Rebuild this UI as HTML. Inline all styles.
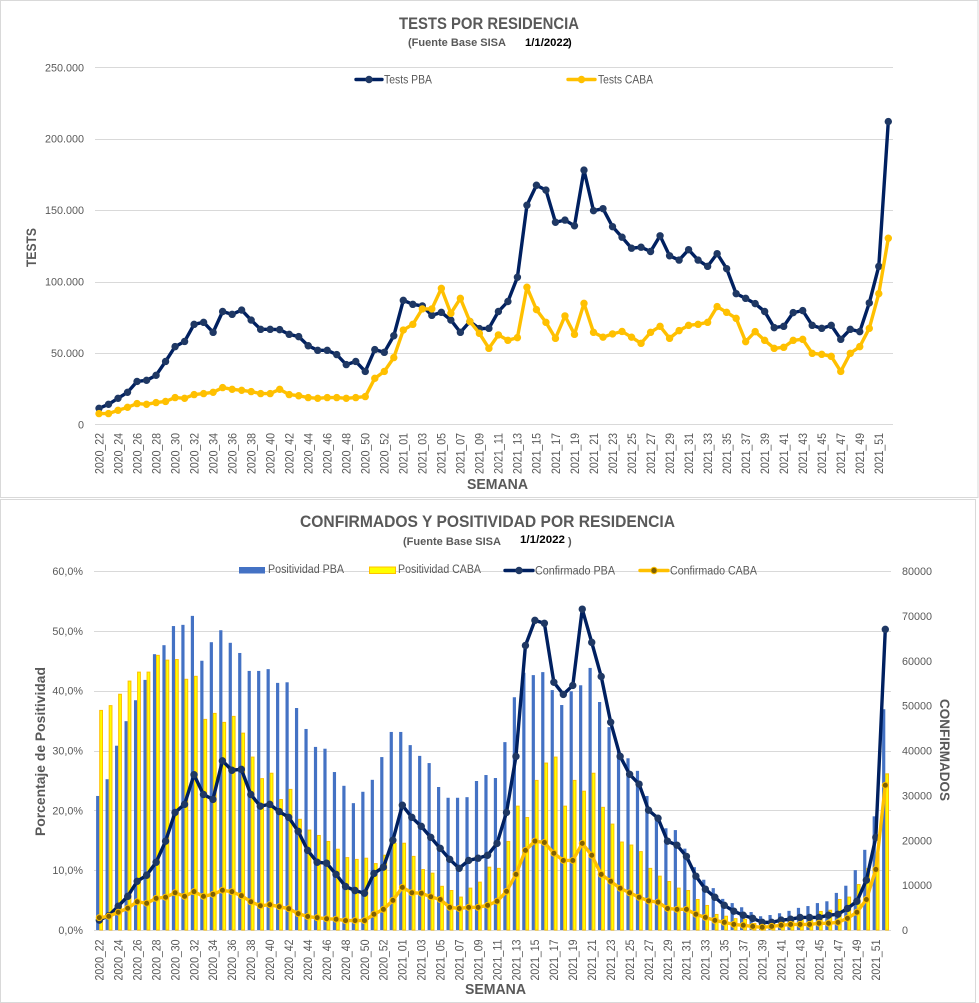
<!DOCTYPE html>
<html lang="es">
<head>
<meta charset="utf-8">
<title>Tests y confirmados por residencia</title>
<style>
html,body{margin:0;padding:0;background:#fff;width:979px;height:1003px;overflow:hidden}
svg{display:block;font-family:"Liberation Sans",sans-serif}
text{fill:#595959}
</style>
</head>
<body>
<svg id="root" xmlns="http://www.w3.org/2000/svg" width="979" height="1003" viewBox="0 0 979 1003">
  <rect x="0" y="0" width="979" height="1003" fill="#fff"/>
  <rect x="0.5" y="0.5" width="977.5" height="497" fill="#fff" stroke="#d9d9d9" stroke-width="1"/>
  <rect x="0.5" y="499.5" width="975" height="503" fill="#fff" stroke="#d9d9d9" stroke-width="1"/>

  <g id="tests-chart"></g>
  <g id="conf-chart"></g>

  <text x="399" y="29" font-size="17" font-weight="bold" textLength="180" lengthAdjust="spacingAndGlyphs">TESTS POR RESIDENCIA</text>
  <text x="408" y="46" font-size="11" font-weight="bold" textLength="98" lengthAdjust="spacingAndGlyphs">(Fuente Base  SISA</text>
  <text x="525" y="46" font-size="11" font-weight="bold" style="fill:#000" textLength="44" lengthAdjust="spacingAndGlyphs">1/1/2022</text>
  <text x="568" y="46" font-size="11" font-weight="bold" style="fill:#000">)</text>
  <text transform="translate(36,267) rotate(-90)" font-size="14" font-weight="bold" textLength="39" lengthAdjust="spacingAndGlyphs">TESTS</text>
  <text x="467" y="489" font-size="14.5" font-weight="bold" textLength="61" lengthAdjust="spacingAndGlyphs">SEMANA</text>

  <text x="300" y="527" font-size="17" font-weight="bold" textLength="375" lengthAdjust="spacingAndGlyphs">CONFIRMADOS Y POSITIVIDAD POR RESIDENCIA</text>
  <text x="403" y="545" font-size="11" font-weight="bold" textLength="98" lengthAdjust="spacingAndGlyphs">(Fuente Base  SISA</text>
  <text x="520" y="543" font-size="11" font-weight="bold" style="fill:#000" textLength="45" lengthAdjust="spacingAndGlyphs">1/1/2022</text>
  <text x="568" y="545" font-size="11" font-weight="bold">)</text>
  <text transform="translate(45,836) rotate(-90)" font-size="14" font-weight="bold" textLength="169" lengthAdjust="spacingAndGlyphs">Porcentaje de Positividad</text>
  <text transform="translate(940,699) rotate(90)" font-size="14" font-weight="bold" textLength="102" lengthAdjust="spacingAndGlyphs">CONFIRMADOS</text>
  <text x="465" y="994" font-size="14.5" font-weight="bold" textLength="61" lengthAdjust="spacingAndGlyphs">SEMANA</text>
</svg>

<script>
const categories = [
 "2020_22","2020_23","2020_24","2020_25","2020_26","2020_27","2020_28","2020_29","2020_30","2020_31","2020_32","2020_33","2020_34","2020_35","2020_36","2020_37","2020_38","2020_39","2020_40","2020_41","2020_42","2020_43","2020_44","2020_45","2020_46","2020_47","2020_48","2020_49","2020_50","2020_51","2020_52","2020_53",
 "2021_01","2021_02","2021_03","2021_04","2021_05","2021_06","2021_07","2021_08","2021_09","2021_10","2021_11","2021_12","2021_13","2021_14","2021_15","2021_16","2021_17","2021_18","2021_19","2021_20","2021_21","2021_22","2021_23","2021_24","2021_25","2021_26","2021_27","2021_28","2021_29","2021_30","2021_31","2021_32","2021_33","2021_34","2021_35","2021_36","2021_37","2021_38","2021_39","2021_40","2021_41","2021_42","2021_43","2021_44","2021_45","2021_46","2021_47","2021_48","2021_49","2021_50","2021_51","2021_52"
];
const testsPBA = [
 11200,14000,18200,22400,30000,30800,34300,44000,54400,58000,70000,71400,64400,79000,77000,80000,73000,66500,66500,66300,63000,61400,55000,51800,51800,48800,41800,44000,37000,52300,50400,62000,
 86800,84000,82900,76300,78400,73000,64400,72000,67000,67200,79000,86000,103000,153400,167400,164000,141500,143000,139000,178000,149600,151000,138400,131000,123300,124000,121000,132000,118000,115000,122300,115000,110600,119500,109000,91500,88200,84500,79000,67700,68600,78200,79600,69300,67200,69300,59500,66500,64900,85000,110600,212000
];
const testsCABA = [
 7500,7500,9800,11900,14500,14000,15200,16000,18700,18200,20800,21500,22400,25700,24500,23800,22900,21500,21500,24500,20800,20000,18700,18200,18700,18700,18200,18700,19400,32200,37000,46700,
 66000,70000,80800,80800,95200,77700,88200,72000,63700,53200,62600,58800,60700,96000,80300,71400,60200,75900,63000,84700,64400,61000,63300,65000,61000,56700,64400,68600,60200,65600,69300,70000,71400,82400,78400,74200,57900,64900,58800,53200,53900,58800,59500,49700,49000,47600,37000,49700,54400,67200,91500,130300
];
const positividadPBA = [
 22.4,25.2,30.8,34.9,38.4,41.8,46.1,47.6,50.8,51,52.5,45,48.1,50.1,48,46.3,43.3,43.3,43.6,41.3,41.4,37.1,33.6,30.6,30.3,26.4,24.1,21.2,23.1,25.1,28.9,33.1,
 33.1,30.9,29.1,27.9,23.9,22.1,22.1,22.2,24.9,25.9,25.4,31.4,38.9,43,42.6,43.1,40.1,37.6,39.9,40.9,43.8,38.1,33.9,30,28.7,26.6,22.4,18.9,17,16.7,13.6,10.5,8.4,7,5.2,4.5,3.8,3,2.3,2.5,2.8,3.2,3.7,4,4.5,4.8,6.2,7.4,10,13.4,19,36.9
];
const positividadCABA = [
 36.7,37.5,39.4,41.6,43.1,43.1,45.9,45.1,45.2,41.9,42.4,35.2,36.2,34.7,35.7,32.9,28.9,25.3,26.2,21.8,23.5,18.5,16.7,15.8,14.8,13.5,12.1,11.8,12,11.1,12.5,14.5,
 14.5,12.3,10.1,9.5,7.3,6.6,5.5,7,8,10.5,10.3,14.8,20.7,18.8,25,27.9,28.9,20.7,25,23.2,26.2,20.5,17.7,14.7,14.2,13.1,10.3,9,8.1,7,6.6,5.1,4.1,2.6,2.3,1.9,1.8,1.1,0.8,1,1.8,1.5,1.9,1.7,3.1,3.3,5.1,5.5,7.6,10.3,12.8,26.1
];
const confirmadoPBA = [
 2200,3200,5300,7500,10850,12200,15100,19800,26200,28000,34600,30200,29100,37700,35600,35800,30200,27600,28000,26400,25100,22000,17750,15100,14900,12400,9700,8800,8200,12600,14000,20000,
 27800,25100,23100,20650,18200,15750,13750,15500,16000,16650,19300,26200,38700,63400,69000,68350,55200,52500,54500,71500,64100,56500,46300,38700,34700,32500,26700,24900,19800,18900,16400,12000,9100,7300,5500,4200,3300,2600,1700,1700,2200,2400,2800,2800,2800,3300,3500,4800,6400,11100,20650,67000
];
const confirmadoCABA = [
 2750,3050,3950,4850,6300,5950,7050,7300,8300,7500,8550,7500,7950,8850,8550,7650,6300,5400,5650,5200,4750,3650,3000,2750,2500,2400,2100,2100,2100,3500,4600,6600,
 9500,8300,8200,7400,6800,5050,4800,5050,5050,5500,6400,8600,12400,17750,19800,19500,17100,15500,15500,19300,16650,12400,10850,9300,8300,7300,6500,6200,4800,4600,4600,3500,2800,2150,1700,1250,1050,800,600,800,1050,1250,1250,1250,1500,1500,1700,2600,3950,6800,13500,32250
];
const testsTickValues = [0,50000,100000,150000,200000,250000];
const testsTickLabels = ["0","50.000","100.000","150.000","200.000","250.000"];
const pctTickValues = [0,10,20,30,40,50,60];
const pctTickLabels = ["0,0%","10,0%","20,0%","30,0%","40,0%","50,0%","60,0%"];
const confTickValues = [0,10000,20000,30000,40000,50000,60000,70000,80000];
const confTickLabels = ["0","10000","20000","30000","40000","50000","60000","70000","80000"];

const NS = "http://www.w3.org/2000/svg";
function mk(parent, tag, attrs, txt) {
  const el = document.createElementNS(NS, tag);
  for (const k in attrs) el.setAttribute(k, attrs[k]);
  if (txt !== undefined) el.textContent = txt;
  parent.appendChild(el);
  return el;
}

// axis functions
const xTests = i => 99 + i * (888.3 - 99) / (categories.length - 1);
const yTests = v => 424.3 - v / 250000 * 357;
const xConf = i => 99.3 + i * (885.3 - 99.3) / (categories.length - 1);
const yPct = v => 930 - v / 60 * 359;
const yConf = v => 930 - v / 80000 * 359;

function drawGrid(parent, values, yFn, x1, x2, prefix) {
  values.forEach(v => {
    const y = Math.round(yFn(v)) + 0.5;
    const el = mk(parent, "line", {x1: x1, x2: x2, y1: y, y2: y, stroke: "#d9d9d9", "stroke-width": 1});
    
    
  });
}
function drawCategoryLabels(parent, xFn, yTop, prefix) {
  categories.forEach((c, i) => {
    if (i % 2) return;
    const x = xFn(i) + 4.3;
    const el = mk(parent, "text", {transform: `translate(${x},${yTop}) rotate(-90)`, "text-anchor": "end", "font-size": 11.5, textLength: 41, lengthAdjust: "spacingAndGlyphs"}, c);
    
    
  });
}
function drawValueLabels(parent, values, labels, yFn, x, anchor, prefix) {
  values.forEach((v, i) => {
    const el = mk(parent, "text", {x: x, y: yFn(v) + 4, "text-anchor": anchor, "font-size": 10.8}, labels[i]);
    
    
  });
}
function drawSeries(parent, values, xFn, yFn, color, fill, markerStroke, r, width, name) {
  const g = mk(parent, "g", {});
  
  
  const line = mk(g, "polyline", {points: values.map((v, i) => xFn(i).toFixed(2) + "," + yFn(v).toFixed(2)).join(" "), fill: "none", stroke: color, "stroke-width": width, "stroke-linejoin": "round", "stroke-linecap": "round"});
  
  
  values.forEach((v, i) => {
    const pt = mk(g, "circle", {cx: xFn(i).toFixed(2), cy: yFn(v).toFixed(2), r: r, fill: fill, stroke: markerStroke, "stroke-width": 1});
    
    
  });
}
function drawBars(parent, values, xFn, yFn, offset, w, fill, stroke, name) {
  const g = mk(parent, "g", {});
  
  
  values.forEach((v, i) => {
    const top = yFn(v);
    const attrs = {x: (xFn(i) + offset).toFixed(2), y: top.toFixed(2), width: w, height: (yFn(0) - top).toFixed(2), fill: fill};
    if (stroke) { attrs.stroke = stroke; attrs["stroke-width"] = 1; }
    const b = mk(g, "rect", attrs);
    
    
  });
}
function legendLine(parent, x1, x2, y, color, fill, stroke, label, tx, tw, name) {
  const g = mk(parent, "g", {});
  
  
  mk(g, "line", {x1: x1, x2: x2, y1: y, y2: y, stroke: color, "stroke-width": 3.4, "stroke-linecap": "round"});
  mk(g, "circle", {cx: (x1 + x2) / 2, cy: y, r: 3.2, fill: fill, stroke: stroke, "stroke-width": 1});
  mk(g, "text", {x: tx, y: y + 4, "font-size": 11.5, textLength: tw, lengthAdjust: "spacingAndGlyphs"}, label);
}
function legendBar(parent, x, y, w, h, fill, stroke, label, tx, tw, name) {
  const g = mk(parent, "g", {});
  
  
  const a = {x: x, y: y, width: w, height: h, fill: fill};
  if (stroke) { a.stroke = stroke; a["stroke-width"] = 1; }
  mk(g, "rect", a);
  mk(g, "text", {x: tx, y: 573, "font-size": 11.5, textLength: tw, lengthAdjust: "spacingAndGlyphs"}, label);
}

const NAVY = "#002060", NAVY_M = "#1f3864", GOLD = "#ffc000", BROWN = "#7f6000";

// chart 1
const c1 = document.getElementById("tests-chart");
drawGrid(c1, testsTickValues, yTests, 95, 893, "tests");
drawValueLabels(c1, testsTickValues, testsTickLabels, yTests, 84, "end", "tests-y");
drawCategoryLabels(c1, xTests, 433, "tests");
drawSeries(c1, testsPBA, xTests, yTests, NAVY, NAVY_M, NAVY_M, 3.2, 3.4, "tests-pba");
drawSeries(c1, testsCABA, xTests, yTests, GOLD, GOLD, GOLD, 3.2, 3.4, "tests-caba");
legendLine(c1, 356, 382, 79.5, NAVY, NAVY_M, NAVY_M, "Tests PBA", 384, 48, "tests-pba");
legendLine(c1, 568, 595, 79.5, GOLD, GOLD, GOLD, "Tests CABA", 598, 55, "tests-caba");

// chart 2
const c2 = document.getElementById("conf-chart");
drawGrid(c2, pctTickValues, yPct, 94, 891, "confirmed");
drawValueLabels(c2, pctTickValues, pctTickLabels, yPct, 83, "end", "positivity-y");
drawValueLabels(c2, confTickValues, confTickLabels, yConf, 902, "start", "confirmed-y");
drawCategoryLabels(c2, xConf, 939.5, "confirmed");
drawBars(c2, positividadPBA, xConf, yPct, -3.2, 3.2, "#4472c4", null, "positivity-pba");
drawBars(c2, positividadCABA, xConf, yPct, 0.4, 2.8, "#ffff00", "#ffc000", "positivity-caba");
drawSeries(c2, confirmadoPBA, xConf, yConf, NAVY, NAVY_M, NAVY_M, 3.2, 3.4, "confirmed-pba");
drawSeries(c2, confirmadoCABA, xConf, yConf, GOLD, BROWN, GOLD, 3, 3.4, "confirmed-caba");
legendBar(c2, 239, 567, 26, 6.5, "#4472c4", null, "Positividad PBA", 268, 76, "positivity-pba");
legendBar(c2, 369.5, 567, 26, 6.5, "#ffff00", "#ffc000", "Positividad CABA", 398, 83, "positivity-caba");
legendLine(c2, 505, 533, 570.5, NAVY, NAVY_M, NAVY_M, "Confirmado PBA", 535, 80, "confirmed-pba");
legendLine(c2, 640, 668, 570.5, GOLD, BROWN, GOLD, "Confirmado CABA", 670, 87, "confirmed-caba");
</script>
</body>
</html>
